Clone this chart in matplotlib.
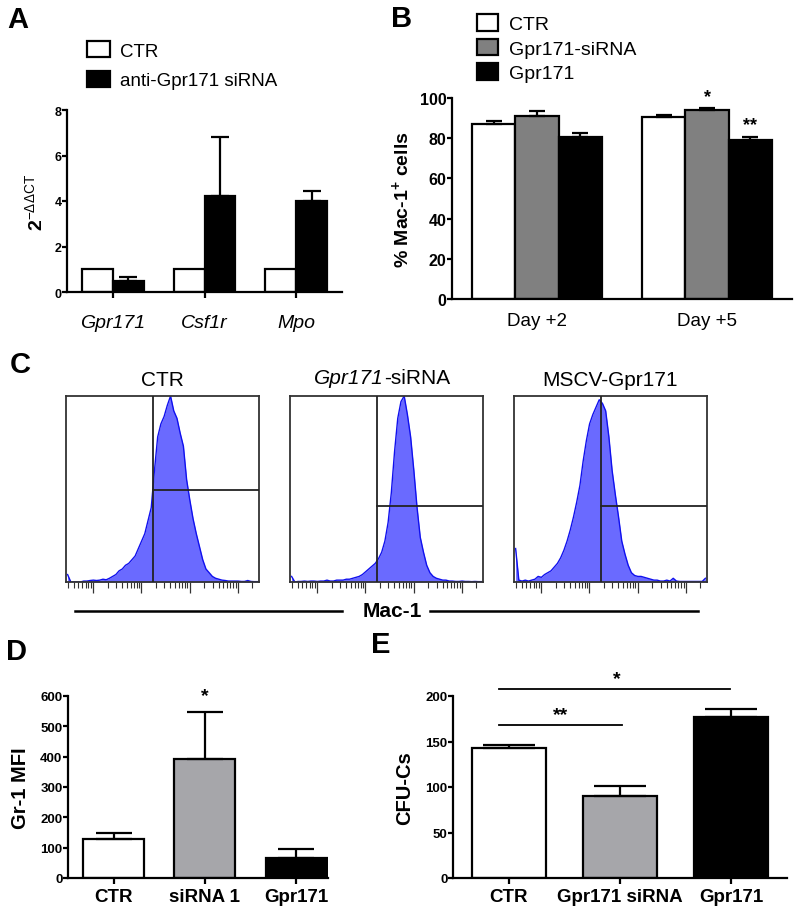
import numpy as np
import matplotlib
matplotlib.use("Agg")
import matplotlib.pyplot as plt
from matplotlib.patches import Patch
from matplotlib.ticker import LogLocator, NullFormatter

plt.rcParams["font.family"] = ["Liberation Sans", "DejaVu Sans"]
plt.rcParams["mathtext.fontset"] = "custom"
plt.rcParams["mathtext.rm"] = "Liberation Sans"
plt.rcParams["mathtext.it"] = "Liberation Sans:italic"
plt.rcParams["mathtext.bf"] = "Liberation Sans:bold"

# ---- data ----
# A: qPCR
a_genes = ["Gpr171", "Csf1r", "Mpo"]
a_ctr = [1.0, 1.0, 1.0]
a_sirna = [0.5, 4.2, 4.02]
a_sirna_err = [0.15, 2.6, 0.4]

# B: % Mac-1+ cells
b_days = ["Day +2", "Day +5"]
b_ctr = [87.0, 90.5]
b_ctr_err = [1.8, 1.0]
b_sirna = [91.2, 94.0]
b_sirna_err = [2.5, 1.2]
b_gpr = [80.5, 79.3]
b_gpr_err = [2.2, 1.5]
b_stars_sirna = ["", "*"]
b_stars_gpr = ["", "**"]

# C: flow histograms (counts per channel, % of max)
c_titles = ["CTR", None, "MSCV-Gpr171"]
hist_ctr = [4, 0, 0, 0, 0, 0.5, 0.5, 0.8, 1, 0.8, 1, 1.5, 1.2, 2, 3, 4, 6, 7, 9, 10,
            12, 14, 18, 22, 26, 33, 40, 60, 78, 85, 89, 95, 100, 92, 88, 80, 73, 55, 44, 34,
            26, 19, 12, 7, 5, 3, 2, 1.5, 1, 0.8, 0.5, 0.5, 0.5, 0.5, 0.3, 0.3, 0.8, 0.3, 0.2, 0.2]
hist_sirna = [3, 0, 0.3, 0.3, 0.5, 0.3, 0.5, 0.5, 0.3, 0.5, 0.5, 1, 0.5, 0.5, 1, 1, 1, 1.5, 1.5, 2,
              2.5, 3, 4, 5.5, 7, 8.5, 10, 12.5, 16, 22, 32, 48, 70, 88, 97, 100, 90, 78, 60, 40,
              24, 16, 9, 5, 3, 2, 1.5, 1, 1, 0.5, 0.5, 0.3, 0.3, 0.5, 0.3, 0.3, 0.2, 0.3, 0.2, 0.2]
hist_gpr = [18, 1, 0.5, 1, 0.5, 1, 1.5, 3, 2.5, 4, 5, 6, 8, 10, 13, 17, 22, 28, 35, 43,
            52, 65, 76, 85, 90, 94, 98, 96, 92, 78, 60, 47, 35, 22, 15, 9, 5, 3.5, 3, 3,
            2.5, 2, 1.5, 1, 1, 0.5, 0.5, 1, 0.5, 2, 0.5, 0.3, 0.3, 0.3, 0.3, 0.3, 0.3, 0.3, 0.3, 2]
c_hists = [hist_ctr, hist_sirna, hist_gpr]
c_gate_x = [10 ** 2.24, 10 ** 2.24, 10 ** 2.24]
c_gate_y = [49.5, 41, 41]

# D: Gr-1 MFI
d_groups = ["CTR", "siRNA 1", "Gpr171"]
d_vals = [128, 392, 65]
d_err = [20, 156, 30]

# E: CFU-Cs
e_groups = ["CTR", "Gpr171 siRNA", "Gpr171"]
e_vals = [143, 90, 177]
e_err = [3, 11, 9]

GRAY_B = "#808080"
GRAY_D = "#a6a6aa"
LW = 1.6


def style_bar_axes(ax, yticks, ylim, tick_fs):
    ax.spines["top"].set_visible(False)
    ax.spines["right"].set_visible(False)
    for s in ("left", "bottom"):
        ax.spines[s].set_linewidth(LW)
    ax.set_ylim(*ylim)
    ax.set_yticks(yticks)
    ax.tick_params(axis="y", direction="out", length=3.5, width=LW, pad=0.5,
                   labelsize=tick_fs)
    for lab in ax.get_yticklabels():
        lab.set_fontweight("bold")


fig = plt.figure(figsize=(8, 9.12), dpi=100)

# ---------------- A ----------------
axA = fig.add_axes([67 / 800, 1 - 293 / 912, 275 / 800, 182 / 912])
xa = np.arange(len(a_genes))
wa = 0.338
axA.bar(xa - wa / 2, a_ctr, wa, color="white", edgecolor="black", linewidth=LW)
axA.bar(xa + wa / 2, a_sirna, wa, color="black", edgecolor="black", linewidth=LW)
axA.errorbar(xa + wa / 2, a_sirna, yerr=[np.zeros(3), a_sirna_err], fmt="none",
             ecolor="black", elinewidth=LW, capsize=6.5, capthick=LW)
axA.set_xlim(-0.5, 2.5)
style_bar_axes(axA, [0, 2, 4, 6, 8], (0, 8), 9)
axA.set_xticks(xa)
axA.set_xticklabels(a_genes, fontsize=14, style="italic")
axA.tick_params(axis="x", direction="out", length=4, width=LW, pad=12)
fig.text(35 / 800, 1 - 202 / 912, r"$\mathbf{2}^{\mathrm{-\Delta\Delta CT}}$",
         rotation=90, ha="center", va="center", fontsize=14)
axA.legend(handles=[Patch(facecolor="white", edgecolor="black", linewidth=LW, label="CTR"),
                    Patch(facecolor="black", edgecolor="black", linewidth=LW,
                          label="anti-Gpr171 siRNA")],
           loc="upper left", bbox_to_anchor=(87 / 800, 1 - 42 / 912),
           bbox_transform=fig.transFigure, frameon=False, fontsize=13.5,
           borderpad=0, borderaxespad=0, handlelength=1.2, handleheight=0.95,
           handletextpad=0.55, labelspacing=0.6)

# ---------------- B ----------------
axB = fig.add_axes([452 / 800, 1 - 300 / 912, 340 / 800, 201 / 912])
xb = np.arange(len(b_days))
wb = 0.253
for off, vals, errs, col, stars in [(-wb, b_ctr, b_ctr_err, "white", ["", ""]),
                                    (0, b_sirna, b_sirna_err, GRAY_B, b_stars_sirna),
                                    (wb, b_gpr, b_gpr_err, "black", b_stars_gpr)]:
    axB.bar(xb + off, vals, wb, color=col, edgecolor="black", linewidth=LW)
    axB.errorbar(xb + off, vals, yerr=[np.zeros(2), errs], fmt="none", ecolor="black",
                 elinewidth=LW, capsize=6, capthick=LW)
    for xi, v, e, s in zip(xb + off, vals, errs, stars):
        if s:
            axB.text(xi, v + e + 1.5, s, ha="center", va="bottom", fontsize=13,
                     fontweight="bold")
axB.set_xlim(-0.5, 1.5)
style_bar_axes(axB, [0, 20, 40, 60, 80, 100], (0, 100), 11.5)
axB.set_xticks(xb)
axB.set_xticklabels(b_days, fontsize=13.5)
axB.tick_params(axis="x", length=0, pad=9)
fig.text(401 / 800, 1 - 200 / 912, r"% Mac-1$^{\mathbf{+}}$ cells", rotation=90,
         ha="center", va="center", fontsize=14, fontweight="bold")
axB.legend(handles=[Patch(facecolor="white", edgecolor="black", linewidth=LW, label="CTR"),
                    Patch(facecolor=GRAY_B, edgecolor="black", linewidth=LW,
                          label="Gpr171-siRNA"),
                    Patch(facecolor="black", edgecolor="black", linewidth=LW,
                          label="Gpr171")],
           loc="upper left", bbox_to_anchor=(477 / 800, 1 - 15 / 912),
           bbox_transform=fig.transFigure, frameon=False, fontsize=14,
           borderpad=0, borderaxespad=0, handlelength=1.1, handleheight=0.95,
           handletextpad=0.55, labelspacing=0.28)

# ---------------- C ----------------
edges = np.logspace(0.44, 4.44, len(hist_ctr) + 1)
centers = np.sqrt(edges[:-1] * edges[1:])
box_left = [66, 290, 514]
for i, (hist, title) in enumerate(zip(c_hists, c_titles)):
    ax = fig.add_axes([box_left[i] / 800, 1 - 583 / 912, 193 / 800, 186 / 912])
    ax.fill_between(centers, 0, hist, color="#6a6aff", linewidth=0, zorder=1)
    ax.plot(centers, hist, color="#1010ee", linewidth=1.0, zorder=2)
    ax.set_xscale("log")
    ax.set_xlim(edges[0], edges[-1])
    ax.set_ylim(0, 100)
    ax.axvline(c_gate_x[i], color="#222222", linewidth=1.3, zorder=3)
    ax.plot([c_gate_x[i], edges[-1]], [c_gate_y[i], c_gate_y[i]], color="#222222",
            linewidth=1.3, zorder=3)
    for s in ax.spines.values():
        s.set_linewidth(1.3)
        s.set_color("#333333")
    ax.set_yticks([])
    ax.xaxis.set_major_locator(LogLocator(base=10))
    ax.xaxis.set_minor_locator(LogLocator(base=10, subs=np.arange(2, 10)))
    ax.xaxis.set_major_formatter(NullFormatter())
    ax.xaxis.set_minor_formatter(NullFormatter())
    ax.tick_params(axis="x", which="major", direction="out", length=8, width=0.9,
                   color="#333333")
    ax.tick_params(axis="x", which="minor", direction="out", length=4, width=0.8,
                   color="#333333")
    if title:
        ax.set_title(title, fontsize=15, pad=8)

# mixed italic title for the siRNA histogram
fig.text(384 / 800, 1 - 378 / 912, "Gpr171", ha="right", va="center", fontsize=15,
         style="italic")
fig.text(384 / 800, 1 - 378 / 912, "-siRNA", ha="left", va="center", fontsize=15)

fig.text(392 / 800, 1 - 612 / 912, "Mac-1", ha="center", va="center", fontsize=15,
         fontweight="bold")
fig.add_artist(plt.Line2D([75 / 800, 342 / 800], [1 - 612 / 912] * 2, color="black",
                          linewidth=1.8))
fig.add_artist(plt.Line2D([430 / 800, 698 / 800], [1 - 612 / 912] * 2, color="black",
                          linewidth=1.8))

# ---------------- D ----------------
axD = fig.add_axes([68 / 800, 1 - 879 / 912, 260 / 800, 182 / 912])
xd = np.arange(len(d_groups))
axD.bar(xd, d_vals, 0.67, color=["white", GRAY_D, "black"], edgecolor="black",
        linewidth=LW)
axD.errorbar(xd, d_vals, yerr=[np.zeros(3), d_err], fmt="none", ecolor="black",
             elinewidth=LW, capsize=13, capthick=LW)
axD.text(xd[1], d_vals[1] + d_err[1] + 25, "*", ha="center", va="bottom", fontsize=14,
         fontweight="bold")
axD.set_xlim(-0.5, 2.35)
style_bar_axes(axD, [0, 100, 200, 300, 400, 500, 600], (0, 600), 9.5)
axD.set_xticks(xd)
axD.set_xticklabels(d_groups, fontsize=13.5, fontweight="bold")
axD.tick_params(axis="x", direction="out", length=4, width=LW, pad=3)
fig.text(21 / 800, 1 - 788 / 912, "Gr-1 MFI", rotation=90, ha="center", va="center",
         fontsize=14.5, fontweight="bold")

# ---------------- E ----------------
axE = fig.add_axes([453 / 800, 1 - 879 / 912, 334 / 800, 182 / 912])
xe = np.arange(len(e_groups))
axE.bar(xe, e_vals, 0.665, color=["white", GRAY_D, "black"], edgecolor="black",
        linewidth=LW)
axE.errorbar(xe, e_vals, yerr=[np.zeros(3), e_err], fmt="none", ecolor="black",
             elinewidth=LW, capsize=19, capthick=LW)
axE.set_xlim(-0.5, 2.5)
style_bar_axes(axE, [0, 50, 100, 150, 200], (0, 200), 9.5)
axE.set_xticks(xe)
axE.set_xticklabels(e_groups, fontsize=13.5, fontweight="bold")
axE.tick_params(axis="x", direction="out", length=4, width=LW, pad=3)
axE.plot([-0.09, 1.02], [168, 168], color="black", linewidth=1.3, clip_on=False)
axE.text(0.47, 170, "**", ha="center", va="bottom", fontsize=14, fontweight="bold")
axE.plot([-0.09, 1.99], [208, 208], color="black", linewidth=1.3, clip_on=False)
axE.text(0.97, 210, "*", ha="center", va="bottom", fontsize=14, fontweight="bold")
fig.text(405 / 800, 1 - 788 / 912, "CFU-Cs", rotation=90, ha="center", va="center",
         fontsize=14.5, fontweight="bold")

# ---------------- panel letters ----------------
for letter, (px, py) in {"A": (18, 20), "B": (402, 19), "C": (20, 365),
                         "D": (17, 652), "E": (381, 645)}.items():
    fig.text(px / 800, 1 - py / 912, letter, ha="center", va="center", fontsize=21,
             fontweight="bold")

fig.savefig("out.png", dpi=100)
